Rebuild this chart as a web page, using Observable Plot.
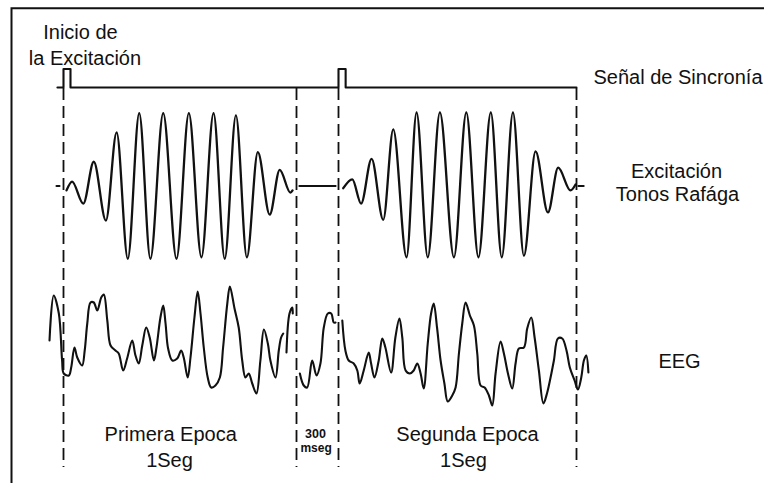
<!DOCTYPE html>
<html>
<head>
<meta charset="utf-8">
<script src="https://cdn.jsdelivr.net/npm/d3@7"></script>
<script src="https://cdn.jsdelivr.net/npm/@observablehq/plot@0.6"></script>
<style>
  html, body { margin: 0; padding: 0; background: #fff; }
  #chart svg { display: block; }
</style>
</head>
<body>
<div id="chart"></div>
<script>
// Epoch boundaries (ms): first epoch 1 s, 300 ms pause, second epoch 1 s
const epochBounds = [0, 1000, 1300, 2300];

// Sync signal: step level (0 = rest, 1 = pulse) starting at each time (ms)
const syncTime  = [-26, 0, 30, 1300, 1330, 2300];
const syncLevel = [0, 1, 0, 1, 0, 0];

// Tone-burst excitation: successive extrema, normalized amplitude
const burst1Time = [13, 37, 85, 130, 182, 228, 276, 325, 373, 428, 485, 538, 592, 644, 692, 740, 787, 834, 885, 928, 974, 983];
const burst1Amp  = [-0.06, 0.06, -0.24, 0.33, -0.47, 0.73, -0.99, 0.99, -0.99, 0.99, -0.99, 0.99, -0.97, 0.99, -0.99, 0.96, -0.97, 0.46, -0.39, 0.22, -0.09, -0.06];
const burst2Time = [1320, 1358, 1395, 1439, 1488, 1530, 1586, 1628, 1675, 1726, 1785, 1837, 1888, 1940, 1986, 2033, 2079, 2128, 2180, 2223, 2275, 2296];
const burst2Amp  = [-0.03, 0.09, -0.24, 0.37, -0.46, 0.77, -0.97, 1.0, -0.97, 1.0, -0.97, 1.0, -0.97, 1.0, -0.97, 1.0, -0.95, 0.47, -0.36, 0.25, -0.06, 0.02];
// Silent pause between the bursts, and the small baseline marks outside them
const pauseTime  = [1021, 1279];
const markTime   = [[-30, -17], [2308, 2330]];

// EEG trace (µV); null separates the recorded segments
const eegTime = [
  -60, -42, -20, -6, 1, 23, 33, 47, 59, 80, 91, 102, 116, 130, 145, 162, 173, 188, 202, 223,
  237, 256, 273, 295, 309, 323, 338, 355, 370, 388, 399, 416, 428, 438, 449, 467, 488, 505,
  516, 533, 545, 562, 576, 588, 602, 619, 634, 652, 671, 685, 703, 714, 734, 752, 767, 781,
  795, 810, 828, 845, 860, 877, 888, 910, 924, 934, 943, 950,
  957, 970, 982, 984, 1000,
  1024, 1052, 1076, 1112, 1143, 1171, 1195, 1224, 1248, 1266, 1279, 1300,
  1316, 1329, 1343, 1364, 1379, 1389, 1406, 1427, 1437, 1451, 1469, 1484, 1497, 1521, 1539,
  1556, 1568, 1582, 1600, 1616, 1631, 1645, 1658, 1675, 1689, 1700, 1714, 1729, 1745, 1759,
  1778, 1792, 1806, 1820, 1834, 1852, 1869, 1883, 1897, 1914, 1932, 1946, 1960, 1981, 1995,
  2012, 2030, 2044, 2058, 2079, 2093, 2110, 2124, 2142, 2161, 2177, 2191, 2205, 2222, 2240,
  2258, 2272, 2292, 2306, 2320, 2331, 2341, 2350
];
const eegUv = [
  5, 50, 32, -15, -28, -30, -22, -2, -12, -20, -5, 22, 43, 43, 35, 48, 51, 25, 0, -5,
  -8, -25, -13, 5, -10, -18, 0, 18, 8, -15, -2, 28, 40, 22, -3, -15, -13, -5,
  -12, -32, -12, 28, 54, 32, -2, -32, -42, -40, -32, -2, 42, 59, 37, 18, -15, -32,
  -28, -38, -48, -15, 16, 2, -15, -32, -5, 8, 12, null,
  -7, 32, 38, 32, null,
  -28, -40, -42, -15, -30, -18, 18, 32, 32, 23, 23, null,
  25, -5, -15, -18, -25, -38, -25, -7, -18, -32, -15, 7, -2, -27, 8,
  27, 8, -25, -28, -25, -18, -28, -43, 2, 32, 42, 18, -15, -38, -56,
  -50, -42, -8, 22, 43, 30, 20, -8, -40, -42, -50, -60, -28, 4, -8,
  -28, -43, -18, -3, -2, 17, 28, 8, -25, -58, -47, -32, -15, 7, 7,
  -5, -22, -35, -44, -32, -15, -10, -27
];

// Layout: page size, horizontal position of the epoch boundaries, vertical lanes
const W = 764, H = 483;
const X_RANGE = [63, 296, 338, 576];
const SYNC_BASE = 87, SYNC_HEIGHT = 18.5;
const BURST_MID = 185.5, BURST_GAIN = 73.5;
const EEG_MID = 345, EEG_GAIN = 1;
const DASH_TOP = 88, DASH_BOTTOM = 467;
const INK = "#111";
const FONT = "'Liberation Sans', Arial, Helvetica, sans-serif";

// The 300 ms pause is drawn compressed: time is warped piecewise onto the page
const timeWarp = d3.scaleLinear().domain(epochBounds).range(X_RANGE);

const sync = syncTime.map((t, i) => ({t, y: SYNC_BASE - SYNC_HEIGHT * syncLevel[i]}));
const burst = [
  ...burst1Time.map((t, i) => ({t, y: BURST_MID - BURST_GAIN * burst1Amp[i], k: "b1"})),
  ...burst2Time.map((t, i) => ({t, y: BURST_MID - BURST_GAIN * burst2Amp[i], k: "b2"}))
];
const flat = [
  ...pauseTime.map(t => ({t, y: BURST_MID, k: "pause"})),
  ...markTime.flatMap((pair, j) => pair.map(t => ({t, y: BURST_MID, k: "m" + j})))
];
const eeg = eegTime.map((t, i) => ({t, y: eegUv[i] == null ? null : EEG_MID - EEG_GAIN * eegUv[i]}));

// Free-standing annotations (pixel offsets from the top-left corner)
const label = (text, dx, dy, anchor = "start", size = 20) =>
  Plot.text([text], {frameAnchor: "top-left", dx, dy, text: d => d, textAnchor: anchor,
    lineAnchor: "bottom", fontSize: size, fill: INK, fontFamily: FONT});
// Captions placed at a time within an epoch
const caption = (text, t, y, size = 20, weight = "normal") =>
  Plot.text([text], {x: () => t, y: () => y, text: d => d, lineAnchor: "bottom",
    fontSize: size, fontWeight: weight, fill: INK, fontFamily: FONT});

const chart = Plot.plot({
  width: W,
  height: H,
  margin: 0,
  style: {background: "#fff", fontFamily: FONT},
  x: {type: "linear", transform: timeWarp, domain: [0, W], range: [0, W], axis: null},
  y: {type: "linear", domain: [0, H], range: [0, H], axis: null},
  marks: [
    Plot.ruleX(epochBounds, {x: d => d, y1: DASH_TOP, y2: DASH_BOTTOM, stroke: INK,
      strokeWidth: 1.8, strokeDasharray: "12,6"}),
    Plot.line(sync, {x: "t", y: "y", curve: "step-after", stroke: INK, strokeWidth: 2.1}),
    Plot.line(burst, {x: "t", y: "y", z: "k", curve: "monotone-x", stroke: INK, strokeWidth: 2.3}),
    Plot.line(flat, {x: "t", y: "y", z: "k", stroke: INK, strokeWidth: 2.1}),
    Plot.line(eeg, {x: "t", y: "y", curve: "catmull-rom", stroke: INK, strokeWidth: 2.1,
      strokeLinejoin: "round"}),
    caption("Primera Epoca", 460, 440),
    caption("1Seg", 455, 466),
    caption("Segunda Epoca", 1842, 440),
    caption("1Seg", 1825, 466),
    caption("300", 1136, 437.5, 12.5, "bold"),
    caption("mseg", 1140, 451, 12, "bold"),
    label("Inicio de", 42.7, 38),
    label("la Excitación", 28.3, 64),
    label("Señal de Sincronía", 593, 83),
    label("Excitación", 676, 177, "middle"),
    label("Tonos Rafága", 677, 200, "middle"),
    label("EEG", 679, 367, "middle")
  ]
});

// Open frame along the top and left edges
d3.select(chart).append("path")
  .attr("d", `M11.5,${H}V8.3H${W}`)
  .attr("fill", "none")
  .attr("stroke", INK)
  .attr("stroke-width", 2);

document.getElementById("chart").append(chart);
</script>
</body>
</html>
